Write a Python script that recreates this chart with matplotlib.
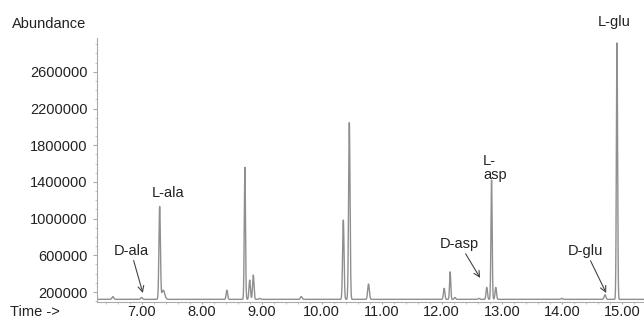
import matplotlib
matplotlib.use("Agg")
import matplotlib.pyplot as plt
import numpy as np

plt.rcParams['font.family'] = ['Liberation Sans', 'DejaVu Sans']

# peak table: retention time (min), apex abundance, width (min)
peak_times = [6.52, 7.00, 7.30, 7.36, 8.42, 8.72, 8.80, 8.86, 8.97, 9.66,
              10.36, 10.46, 10.78, 12.04, 12.14, 12.22, 12.62, 12.75, 12.83, 12.90,
              14.00, 14.72, 14.92]
peak_heights = [150000, 140000, 1130000, 220000, 220000, 1560000, 330000, 385000, 130000, 150000,
                985000, 2050000, 287000, 240000, 420000, 140000, 130000, 250000, 1420000, 250000,
                130000, 170000, 2930000]
peak_widths = [0.015, 0.015, 0.012, 0.025, 0.012, 0.010, 0.012, 0.012, 0.015, 0.015,
               0.012, 0.012, 0.014, 0.012, 0.010, 0.012, 0.015, 0.012, 0.010, 0.012,
               0.015, 0.015, 0.010]
baseline = 120000

x_ticks = [7, 8, 9, 10, 11, 12, 13, 14, 15]
y_ticks = [200000, 600000, 1000000, 1400000, 1800000, 2200000, 2600000]

labels = ["D-ala", "L-ala", "D-asp", "L-\nasp", "D-glu", "L-glu"]

t = np.linspace(6.26, 15.37, 4000)
signal = np.full_like(t, baseline, dtype=float)
for pt, ph, pw in zip(peak_times, peak_heights, peak_widths):
    signal += (ph - baseline) * np.exp(-0.5 * ((t - pt) / pw) ** 2)

fig = plt.figure(figsize=(6.44, 3.21), dpi=100)
ax = fig.add_axes([0.151, 0.06, 0.849, 0.822])
ax.plot(t, signal, color='#8f8f8f', lw=1.0)
ax.set_xlim(6.26, 15.37)
ax.set_ylim(94000, 2970000)

for s in ['top', 'right']:
    ax.spines[s].set_visible(False)
ax.spines['left'].set_color('#aaaaaa')
ax.spines['bottom'].set_color('#aaaaaa')
ax.spines['left'].set_linewidth(0.8)
ax.spines['bottom'].set_linewidth(0.8)

ax.set_xticks(x_ticks)
ax.set_xticklabels([f"{v:.2f}" for v in x_ticks])
ax.set_yticks(y_ticks)
ax.set_yticklabels([str(v) for v in y_ticks])
ax.minorticks_on()
ax.tick_params(which='major', length=3, color='#aaaaaa', labelsize=10.5, labelcolor='#222222')
ax.tick_params(which='minor', length=1.5, color='#bbbbbb')
ax.tick_params(axis='y', pad=4)
ax.tick_params(axis='x', which='major', length=1.5, pad=0.5)

txt = dict(fontsize=10.5, color='#222222')
arrow = dict(arrowstyle='->', color='#444444', lw=0.8, shrinkA=0, shrinkB=0)

ax.annotate(labels[0], xy=(7.02, 189000), xytext=(6.82, 650000), ha='center', va='center',
            arrowprops=arrow, **txt)
ax.text(7.44, 1280000, labels[1], ha='center', va='center', **txt)
ax.annotate(labels[2], xy=(12.64, 353000), xytext=(12.30, 723000), ha='center', va='center',
            arrowprops=arrow, **txt)
ax.text(12.69, 1550000, labels[3], ha='left', va='center', linespacing=1.0, **txt)
ax.annotate(labels[4], xy=(14.74, 189000), xytext=(14.40, 647000), ha='center', va='center',
            arrowprops=arrow, **txt)
ax.text(14.87, 3140000, labels[5], ha='center', va='center', clip_on=False, **txt)

fig.text(12 / 644, 1 - 24 / 321, "Abundance", ha='left', va='center', **txt)
fig.text(10 / 644, 1 - 312 / 321, "Time ->", ha='left', va='center', **txt)

fig.savefig("out.png", dpi=100)
